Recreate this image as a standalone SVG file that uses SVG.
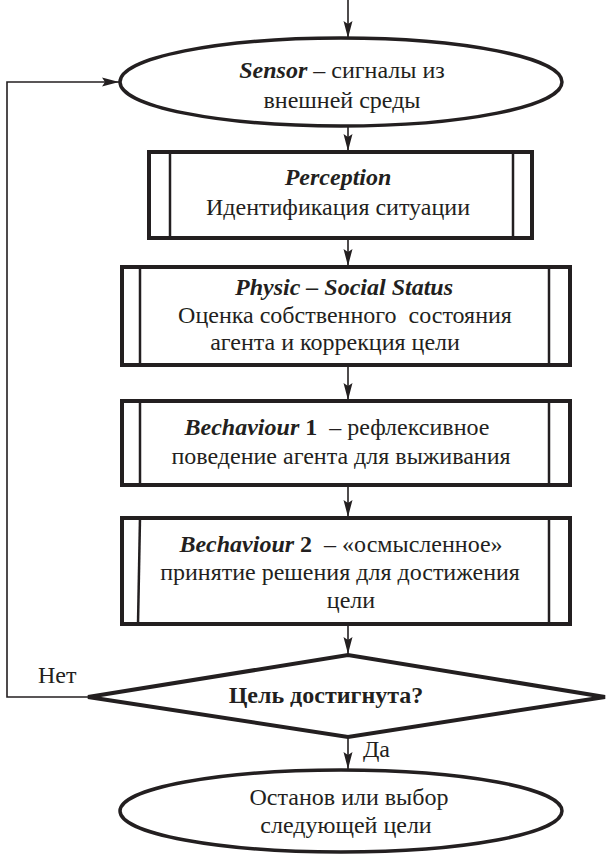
<svg xmlns="http://www.w3.org/2000/svg" width="606" height="854" viewBox="0 0 606 854">
<defs>
<style>
.box{fill:#fff;stroke:#231f20;stroke-width:4}
.inner{stroke:#231f20;stroke-width:2.5;fill:none}
.ell{fill:#fff;stroke:#231f20;stroke-width:3.5}
.dia{fill:#fff;stroke:#231f20;stroke-width:4;stroke-linejoin:miter}
.con{fill:none;stroke:#231f20;stroke-width:1.6}
.t{font-size:24px;fill:#231f20;text-anchor:middle}
.bi{font-weight:bold;font-style:italic}
.b{font-weight:bold}
.lbl{text-anchor:start}
</style>
<marker id="ah" markerWidth="18" markerHeight="10" refX="17" refY="5" orient="auto" markerUnits="userSpaceOnUse">
<path d="M0,0.5 L17,5 L0,9.5 L3,5 Z" fill="#231f20"/>
</marker>
</defs>

<g font-family="'Liberation Serif', 'Times New Roman', 'DejaVu Serif', serif">
<g id="connectors">
<line class="con" x1="348" y1="0" x2="348" y2="38" marker-end="url(#ah)"/>
<line class="con" x1="348" y1="127" x2="348" y2="151" marker-end="url(#ah)"/>
<line class="con" x1="348" y1="239" x2="348" y2="266" marker-end="url(#ah)"/>
<line class="con" x1="348" y1="366" x2="348" y2="400" marker-end="url(#ah)"/>
<line class="con" x1="348" y1="486" x2="348" y2="517" marker-end="url(#ah)"/>
<line class="con" x1="348" y1="625" x2="348" y2="654" marker-end="url(#ah)"/>
<line class="con" x1="348" y1="738" x2="348" y2="769" marker-end="url(#ah)"/>
<polyline class="con" points="88,697 7,697 7,82 119,82" marker-end="url(#ah)"/>
<text class="t lbl" x="38" y="683">Нет</text>
<text class="t lbl" x="363" y="757">Да</text>
</g>

<g id="sensor">
<ellipse class="ell" cx="341" cy="82" rx="221" ry="44"/>
<text class="t" x="342" y="78"><tspan class="bi">Sensor</tspan> – сигналы из</text>
<text class="t" x="342" y="108">внешней среды</text>
</g>

<g id="perception">
<rect class="box" x="149" y="152" width="383" height="86"/>
<line class="inner" x1="170" y1="152" x2="170" y2="238"/>
<line class="inner" x1="513" y1="152" x2="513" y2="238"/>
<text class="t bi" x="338" y="185">Perception</text>
<text class="t" x="338" y="215">Идентификация ситуации</text>
</g>

<g id="physic">
<rect class="box" x="122" y="267" width="448" height="98"/>
<line class="inner" x1="140" y1="267" x2="140" y2="365"/>
<line class="inner" x1="549" y1="267" x2="549" y2="365"/>
<text class="t bi" x="344" y="295">Physic – Social Status</text>
<text class="t" x="345" y="323" xml:space="preserve">Оценка собственного  состояния</text>
<text class="t" x="335" y="350">агента и коррекция цели</text>
</g>

<g id="behaviour1">
<rect class="box" x="122" y="401" width="448" height="84"/>
<line class="inner" x1="140" y1="401" x2="140" y2="485"/>
<line class="inner" x1="549" y1="401" x2="549" y2="485"/>
<text class="t" x="337" y="435" xml:space="preserve"><tspan class="bi">Bechaviour</tspan><tspan class="b"> 1</tspan>  – рефлексивное</text>
<text class="t" x="341" y="464">поведение агента для выживания</text>
</g>

<g id="behaviour2">
<rect class="box" x="122" y="518" width="448" height="106"/>
<line class="inner" x1="140" y1="518" x2="138" y2="624"/>
<line class="inner" x1="549" y1="518" x2="549" y2="624"/>
<text class="t" x="341" y="552" xml:space="preserve"><tspan class="bi">Bechaviour</tspan><tspan class="b"> 2</tspan>  – «осмысленное»</text>
<text class="t" x="340" y="580">принятие решения для достижения</text>
<text class="t" x="351" y="608">цели</text>
</g>

<g id="decision">
<polygon class="dia" points="88,697 348,655 605,697 348,737"/>
<text class="t b" x="326" y="703">Цель достигнута?</text>
</g>

<g id="stop">
<ellipse class="ell" cx="341" cy="811" rx="221" ry="41"/>
<text class="t" x="349" y="805">Останов или выбор</text>
<text class="t" x="346" y="833">следующей цели</text>
</g>
</g>
</svg>
